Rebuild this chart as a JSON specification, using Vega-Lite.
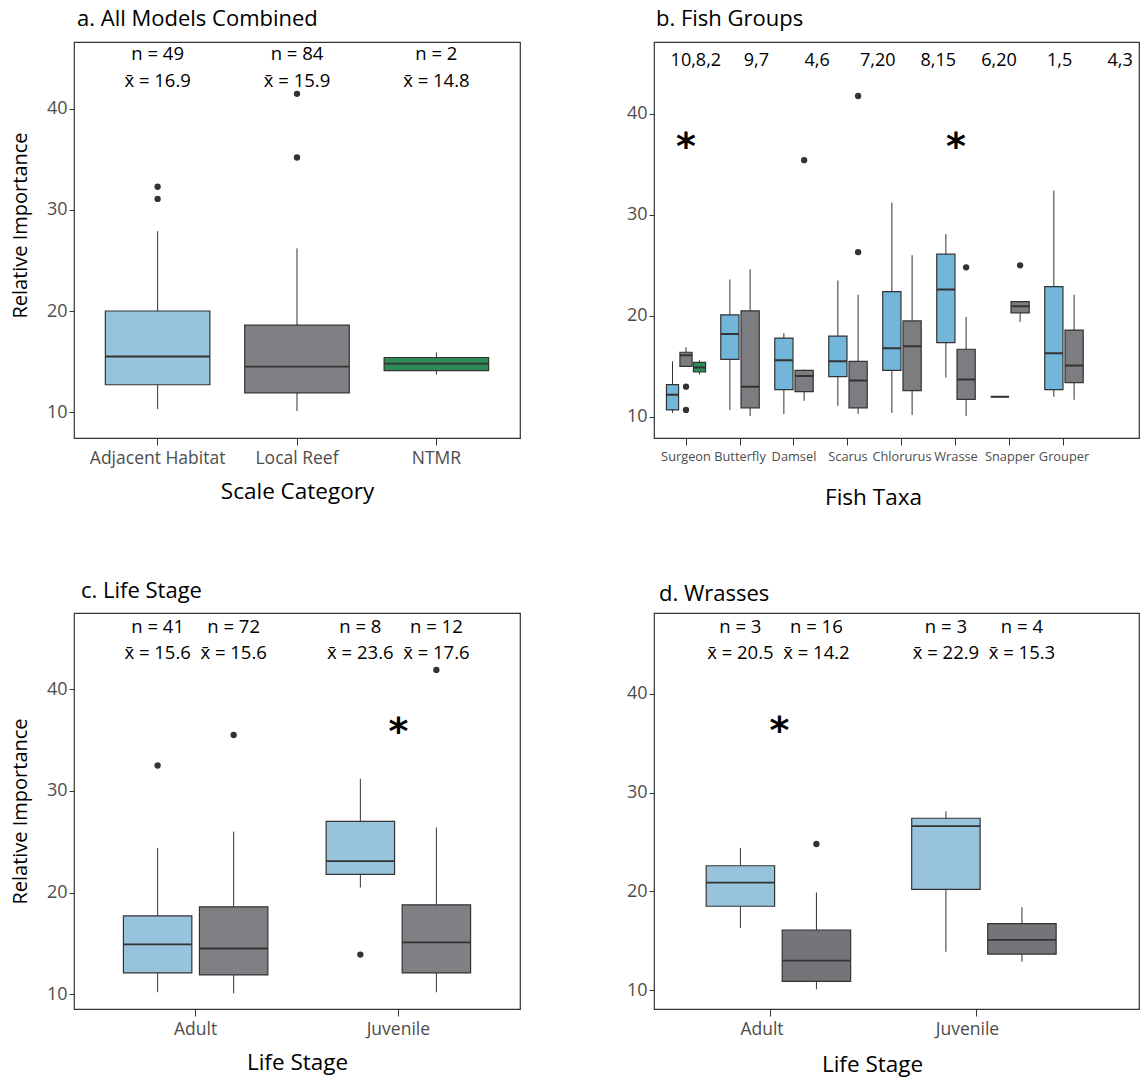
{
  "$schema": "https://vega.github.io/schema/vega-lite/v6.json",
  "background": "white",
  "padding": {"left": 9, "top": 6, "right": 0, "bottom": 14},
  "config": {
    "font": "Open Sans",
    "view": {"stroke": "#333333", "strokeWidth": 1.2},
    "axis": {"grid": false, "domain": false, "tickColor": "#333333", "tickWidth": 1, "labelColor": "#4d4d4d", "labelFont": "Open Sans", "titleFont": "Open Sans", "titleFontWeight": "normal", "titleColor": "#000000"},
    "axisY": {"labelFontSize": 18, "tickSize": 5, "labelPadding": 2, "titleFontSize": 20, "titlePadding": 16},
    "axisX": {"labelFontSize": 17.5, "tickSize": 7, "labelPadding": 4, "labelAngle": 0, "titleFontSize": 22.5, "titlePadding": 14},
    "title": {"anchor": "start", "fontSize": 22, "fontWeight": "normal", "color": "#000000", "frame": "group", "baseline": "alphabetic", "font": "Open Sans"},
    "text": {"font": "Open Sans", "color": "#000000"}
  },
  "datasets": {
    "boxA": [
      {"cat": "Adjacent Habitat", "lo": 10.3, "q1": 12.7, "med": 15.5, "q3": 20.0, "hi": 27.9},
      {"cat": "Local Reef", "lo": 10.1, "q1": 11.9, "med": 14.5, "q3": 18.6, "hi": 26.2},
      {"cat": "NTMR", "lo": 13.7, "q1": 14.1, "med": 14.8, "q3": 15.4, "hi": 15.9}
    ],
    "outA": [
      {"cat": "Adjacent Habitat", "val": 32.3},
      {"cat": "Adjacent Habitat", "val": 31.1},
      {"cat": "Local Reef", "val": 41.5},
      {"cat": "Local Reef", "val": 35.2}
    ],
    "annA": [
      {"cat": "Adjacent Habitat", "nlab": "n = 49", "xlab": "x\u0304 = 16.9"},
      {"cat": "Local Reef", "nlab": "n = 84", "xlab": "x\u0304 = 15.9"},
      {"cat": "NTMR", "nlab": "n = 2", "xlab": "x\u0304 = 14.8"}
    ],
    "boxB": [
      {"cat": "Surgeon", "grp": "Adjacent Habitat", "lo": 10.4, "q1": 10.7, "med": 12.2, "q3": 13.2, "hi": 15.5},
      {"cat": "Surgeon", "grp": "Local Reef", "lo": 15.0, "q1": 15.0, "med": 16.1, "q3": 16.4, "hi": 16.9},
      {"cat": "Surgeon", "grp": "NTMR", "lo": 14.2, "q1": 14.45, "med": 14.9, "q3": 15.4, "hi": 15.6},
      {"cat": "Butterfly", "grp": "Adjacent Habitat", "lo": 10.7, "q1": 15.7, "med": 18.2, "q3": 20.1, "hi": 23.6},
      {"cat": "Butterfly", "grp": "Local Reef", "lo": 10.1, "q1": 10.9, "med": 13.0, "q3": 20.5, "hi": 24.6},
      {"cat": "Damsel", "grp": "Adjacent Habitat", "lo": 10.3, "q1": 12.7, "med": 15.6, "q3": 17.8, "hi": 18.3},
      {"cat": "Damsel", "grp": "Local Reef", "lo": 11.6, "q1": 12.5, "med": 14.05, "q3": 14.6, "hi": 14.7},
      {"cat": "Scarus", "grp": "Adjacent Habitat", "lo": 11.1, "q1": 14.0, "med": 15.5, "q3": 18.0, "hi": 23.5},
      {"cat": "Scarus", "grp": "Local Reef", "lo": 10.3, "q1": 10.9, "med": 13.6, "q3": 15.5, "hi": 22.1},
      {"cat": "Chlorurus", "grp": "Adjacent Habitat", "lo": 10.4, "q1": 14.6, "med": 16.8, "q3": 22.4, "hi": 31.2},
      {"cat": "Chlorurus", "grp": "Local Reef", "lo": 10.2, "q1": 12.6, "med": 17.0, "q3": 19.5, "hi": 26.0},
      {"cat": "Wrasse", "grp": "Adjacent Habitat", "lo": 13.9, "q1": 17.35, "med": 22.6, "q3": 26.1, "hi": 28.1},
      {"cat": "Wrasse", "grp": "Local Reef", "lo": 10.1, "q1": 11.75, "med": 13.7, "q3": 16.7, "hi": 19.9},
      {"cat": "Snapper", "grp": "Adjacent Habitat", "lo": 12.0, "q1": 12.0, "med": 12.0, "q3": 12.0, "hi": 12.0},
      {"cat": "Snapper", "grp": "Local Reef", "lo": 19.4, "q1": 20.3, "med": 20.95, "q3": 21.4, "hi": 21.4},
      {"cat": "Grouper", "grp": "Adjacent Habitat", "lo": 12.0, "q1": 12.7, "med": 16.3, "q3": 22.9, "hi": 32.4},
      {"cat": "Grouper", "grp": "Local Reef", "lo": 11.7, "q1": 13.4, "med": 15.1, "q3": 18.6, "hi": 22.1}
    ],
    "outB": [
      {"cat": "Surgeon", "grp": "Local Reef", "val": 13.0},
      {"cat": "Surgeon", "grp": "Local Reef", "val": 10.7},
      {"cat": "Damsel", "grp": "Local Reef", "val": 35.4},
      {"cat": "Scarus", "grp": "Local Reef", "val": 26.3},
      {"cat": "Scarus", "grp": "Local Reef", "val": 41.75},
      {"cat": "Wrasse", "grp": "Local Reef", "val": 24.8},
      {"cat": "Snapper", "grp": "Local Reef", "val": 25.0}
    ],
    "annB": [
      {"cat": "Surgeon", "lab": "10,8,2"},
      {"cat": "Butterfly", "lab": "9,7"},
      {"cat": "Damsel", "lab": "4,6"},
      {"cat": "Scarus", "lab": "7,20"},
      {"cat": "Chlorurus", "lab": "8,15"},
      {"cat": "Wrasse", "lab": "6,20"},
      {"cat": "Snapper", "lab": "1,5"},
      {"cat": "Grouper", "lab": "4,3"}
    ],
    "starB": [
      {"cat": "Surgeon", "sig": "*"},
      {"cat": "Wrasse", "sig": "*"}
    ],
    "boxC": [
      {"stage": "Adult", "grp": "Adjacent Habitat", "lo": 10.2, "q1": 12.1, "med": 14.9, "q3": 17.7, "hi": 24.4},
      {"stage": "Adult", "grp": "Local Reef", "lo": 10.1, "q1": 11.9, "med": 14.5, "q3": 18.6, "hi": 26.0},
      {"stage": "Juvenile", "grp": "Adjacent Habitat", "lo": 20.5, "q1": 21.8, "med": 23.1, "q3": 27.0, "hi": 31.2},
      {"stage": "Juvenile", "grp": "Local Reef", "lo": 10.2, "q1": 12.1, "med": 15.1, "q3": 18.8, "hi": 26.4}
    ],
    "outC": [
      {"stage": "Adult", "grp": "Adjacent Habitat", "val": 32.5},
      {"stage": "Adult", "grp": "Local Reef", "val": 35.5},
      {"stage": "Juvenile", "grp": "Adjacent Habitat", "val": 13.9},
      {"stage": "Juvenile", "grp": "Local Reef", "val": 41.9}
    ],
    "annC": [
      {"stage": "Adult", "grp": "Adjacent Habitat", "nlab": "n = 41", "xlab": "x\u0304 = 15.6"},
      {"stage": "Adult", "grp": "Local Reef", "nlab": "n = 72", "xlab": "x\u0304 = 15.6"},
      {"stage": "Juvenile", "grp": "Adjacent Habitat", "nlab": "n = 8", "xlab": "x\u0304 = 23.6"},
      {"stage": "Juvenile", "grp": "Local Reef", "nlab": "n = 12", "xlab": "x\u0304 = 17.6"}
    ],
    "starC": [{"stage": "Juvenile", "sig": "*"}],
    "boxD": [
      {"stage": "Adult", "grp": "Adjacent Habitat", "lo": 16.3, "q1": 18.5, "med": 20.9, "q3": 22.6, "hi": 24.4},
      {"stage": "Adult", "grp": "Local Reef", "lo": 10.1, "q1": 10.9, "med": 13.0, "q3": 16.1, "hi": 19.9},
      {"stage": "Juvenile", "grp": "Adjacent Habitat", "lo": 13.9, "q1": 20.2, "med": 26.6, "q3": 27.4, "hi": 28.1},
      {"stage": "Juvenile", "grp": "Local Reef", "lo": 12.9, "q1": 13.65, "med": 15.1, "q3": 16.75, "hi": 18.4}
    ],
    "outD": [
      {"stage": "Adult", "grp": "Local Reef", "val": 24.8}
    ],
    "annD": [
      {"stage": "Adult", "grp": "Adjacent Habitat", "nlab": "n = 3", "xlab": "x\u0304 = 20.5"},
      {"stage": "Adult", "grp": "Local Reef", "nlab": "n = 16", "xlab": "x\u0304 = 14.2"},
      {"stage": "Juvenile", "grp": "Adjacent Habitat", "nlab": "n = 3", "xlab": "x\u0304 = 22.9"},
      {"stage": "Juvenile", "grp": "Local Reef", "nlab": "n = 4", "xlab": "x\u0304 = 15.3"}
    ],
    "starD": [{"stage": "Adult", "sig": "*"}]
  },
  "columns": 2,
  "align": "each",
  "bounds": "flush",
  "spacing": {"row": 175, "column": 134},
  "resolve": {"scale": {"fill": "independent"}},
  "concat": [
    {
      "width": 446, "height": 396,
      "title": {"text": "a. All Models Combined", "dx": 3, "offset": 11.5},
      "encoding": {
        "x": {"field": "cat", "type": "nominal", "scale": {"domain": ["Adjacent Habitat", "Local Reef", "NTMR"], "paddingInner": 0.25, "paddingOuter": 0.225}, "axis": {"title": "Scale Category"}}
      },
      "layer": [
        {"data": {"name": "boxA"}, "mark": {"type": "rule", "color": "#333333", "strokeWidth": 1},
         "encoding": {"y": {"field": "lo", "type": "quantitative", "scale": {"domain": [7.43, 46.63], "nice": false, "zero": false}, "axis": {"title": "Relative Importance", "values": [10, 20, 30, 40], "titleY": 183}}, "y2": {"field": "hi"}}},
        {"data": {"name": "boxA"}, "mark": {"type": "bar", "stroke": "#333333", "strokeWidth": 1.2},
         "encoding": {"y": {"field": "q1", "type": "quantitative"}, "y2": {"field": "q3"},
           "fill": {"field": "cat", "type": "nominal", "scale": {"domain": ["Adjacent Habitat", "Local Reef", "NTMR"], "range": ["#97c4dc", "#7f8083", "#2e8b57"]}, "legend": null}}},
        {"data": {"name": "boxA"}, "mark": {"type": "bar", "fillOpacity": 0, "stroke": "#333333", "strokeWidth": 1.8},
         "encoding": {"y": {"field": "med", "type": "quantitative"}, "y2": {"field": "med"}}},
        {"data": {"name": "outA"}, "mark": {"type": "point", "filled": true, "color": "#333333", "size": 40, "opacity": 1},
         "encoding": {"y": {"field": "val", "type": "quantitative"}}},
        {"data": {"name": "annA"}, "mark": {"type": "text", "fontSize": 18.5, "baseline": "middle"},
         "encoding": {"y": {"datum": 45.4}, "text": {"field": "nlab"}}},
        {"data": {"name": "annA"}, "mark": {"type": "text", "fontSize": 18.5, "baseline": "middle"},
         "encoding": {"y": {"datum": 42.8}, "text": {"field": "xlab"}}}
      ]
    },
    {
      "width": 485, "height": 396,
      "title": {"text": "b. Fish Groups", "dx": 2, "offset": 11.5},
      "resolve": {"scale": {"x": "independent"}},
      "layer": [
        {
          "encoding": {
            "x": {"field": "cat", "type": "nominal", "scale": {"domain": ["Surgeon", "Butterfly", "Damsel", "Scarus", "Chlorurus", "Wrasse", "Snapper", "Grouper"], "paddingInner": 0.25, "paddingOuter": 0.616, "align": 0.1767}, "axis": {"title": "Fish Taxa", "labelFontSize": 12.8, "labelPadding": 5, "titleX": 219, "titlePadding": 24}}
          },
          "resolve": {"scale": {"xOffset": "independent"}},
          "layer": [
            {
              "encoding": {"xOffset": {"field": "grp", "type": "nominal", "scale": {"domain": ["Adjacent Habitat", "Local Reef", "NTMR"], "paddingInner": 0.1, "paddingOuter": 0.05}}},
              "layer": [
                {"data": {"name": "boxB"}, "transform": [{"filter": "datum.cat === 'Surgeon'"}], "mark": {"type": "rule", "color": "#333333", "strokeWidth": 1},
                 "encoding": {"y": {"field": "lo", "type": "quantitative", "scale": {"domain": [7.92, 47.09], "nice": false, "zero": false}, "axis": {"title": null, "values": [10, 20, 30, 40]}}, "y2": {"field": "hi"}}},
                {"data": {"name": "boxB"}, "transform": [{"filter": "datum.cat === 'Surgeon'"}], "mark": {"type": "bar", "stroke": "#333333", "strokeWidth": 1.2},
                 "encoding": {"y": {"field": "q1", "type": "quantitative"}, "y2": {"field": "q3"},
                   "fill": {"field": "grp", "type": "nominal", "scale": {"domain": ["Adjacent Habitat", "Local Reef", "NTMR"], "range": ["#72b6d9", "#7c7d80", "#2e8b57"]}, "legend": null}}},
                {"data": {"name": "boxB"}, "transform": [{"filter": "datum.cat === 'Surgeon'"}], "mark": {"type": "bar", "fillOpacity": 0, "stroke": "#333333", "strokeWidth": 2},
                 "encoding": {"y": {"field": "med", "type": "quantitative"}, "y2": {"field": "med"}}},
                {"data": {"name": "outB"}, "transform": [{"filter": "datum.cat === 'Surgeon'"}], "mark": {"type": "point", "filled": true, "color": "#333333", "size": 40, "opacity": 1},
                 "encoding": {"y": {"field": "val", "type": "quantitative"}}}
              ]
            },
            {
              "encoding": {"xOffset": {"field": "grp", "type": "nominal", "scale": {"domain": ["Adjacent Habitat", "Local Reef"], "paddingInner": 0.1, "paddingOuter": 0.05}}},
              "layer": [
                {"data": {"name": "boxB"}, "transform": [{"filter": "datum.cat !== 'Surgeon'"}], "mark": {"type": "rule", "color": "#333333", "strokeWidth": 1},
                 "encoding": {"y": {"field": "lo", "type": "quantitative"}, "y2": {"field": "hi"}}},
                {"data": {"name": "boxB"}, "transform": [{"filter": "datum.cat !== 'Surgeon'"}], "mark": {"type": "bar", "stroke": "#333333", "strokeWidth": 1.2},
                 "encoding": {"y": {"field": "q1", "type": "quantitative"}, "y2": {"field": "q3"},
                   "fill": {"field": "grp", "type": "nominal"}}},
                {"data": {"name": "boxB"}, "transform": [{"filter": "datum.cat !== 'Surgeon'"}], "mark": {"type": "bar", "fillOpacity": 0, "stroke": "#333333", "strokeWidth": 2},
                 "encoding": {"y": {"field": "med", "type": "quantitative"}, "y2": {"field": "med"}}},
                {"data": {"name": "outB"}, "transform": [{"filter": "datum.cat !== 'Surgeon'"}], "mark": {"type": "point", "filled": true, "color": "#333333", "size": 40, "opacity": 1},
                 "encoding": {"y": {"field": "val", "type": "quantitative"}}}
              ]
            },
            {"data": {"name": "starB"}, "mark": {"type": "text", "fontSize": 38, "fontWeight": "bold", "baseline": "middle", "dy": 5, "font": "DejaVu Sans"},
             "encoding": {"y": {"datum": 37.1}, "text": {"field": "sig"}}}
          ]
        },
        {"data": {"name": "annB"}, "mark": {"type": "text", "fontSize": 18, "baseline": "middle"},
         "encoding": {
           "x": {"field": "cat", "type": "nominal", "scale": {"domain": ["Surgeon", "Butterfly", "Damsel", "Scarus", "Chlorurus", "Wrasse", "Snapper", "Grouper"], "paddingInner": 0.5, "paddingOuter": 0.301, "align": 0.69}, "axis": null},
           "y": {"datum": 45.2}, "text": {"field": "lab"}}}
      ]
    },
    {
      "width": 446, "height": 396,
      "title": {"text": "c. Life Stage", "dx": 7, "offset": 10.5},
      "encoding": {
        "x": {"field": "stage", "type": "nominal", "scale": {"domain": ["Adult", "Juvenile"], "paddingInner": 0.25, "paddingOuter": 0.225}, "axis": {"title": "Life Stage"}}
      },
      "layer": [
        {"data": {"name": "boxC"}, "mark": {"type": "rule", "color": "#333333", "strokeWidth": 1},
         "encoding": {"xOffset": {"field": "grp", "type": "nominal", "scale": {"domain": ["Adjacent Habitat", "Local Reef"], "paddingInner": 0.1, "paddingOuter": 0.05}},
           "y": {"field": "lo", "type": "quantitative", "scale": {"domain": [8.55, 47.5], "nice": false, "zero": false}, "axis": {"title": "Relative Importance", "values": [10, 20, 30, 40]}}, "y2": {"field": "hi"}}},
        {"data": {"name": "boxC"}, "mark": {"type": "bar", "stroke": "#333333", "strokeWidth": 1.2},
         "encoding": {"xOffset": {"field": "grp", "type": "nominal"}, "y": {"field": "q1", "type": "quantitative"}, "y2": {"field": "q3"},
           "fill": {"field": "grp", "type": "nominal", "scale": {"domain": ["Adjacent Habitat", "Local Reef"], "range": ["#97c4dc", "#7f8083"]}, "legend": null}}},
        {"data": {"name": "boxC"}, "mark": {"type": "bar", "fillOpacity": 0, "stroke": "#333333", "strokeWidth": 1.8},
         "encoding": {"xOffset": {"field": "grp", "type": "nominal"}, "y": {"field": "med", "type": "quantitative"}, "y2": {"field": "med"}}},
        {"data": {"name": "outC"}, "mark": {"type": "point", "filled": true, "color": "#333333", "size": 40, "opacity": 1},
         "encoding": {"xOffset": {"field": "grp", "type": "nominal"}, "y": {"field": "val", "type": "quantitative"}}},
        {"data": {"name": "annC"}, "mark": {"type": "text", "fontSize": 18.5, "baseline": "middle"},
         "encoding": {"xOffset": {"field": "grp", "type": "nominal"}, "y": {"datum": 46.1}, "text": {"field": "nlab"}}},
        {"data": {"name": "annC"}, "mark": {"type": "text", "fontSize": 18.5, "baseline": "middle"},
         "encoding": {"xOffset": {"field": "grp", "type": "nominal"}, "y": {"datum": 43.6}, "text": {"field": "xlab"}}},
        {"data": {"name": "starC"}, "mark": {"type": "text", "fontSize": 38, "fontWeight": "bold", "baseline": "middle", "dy": 5, "font": "DejaVu Sans"},
         "encoding": {"y": {"datum": 36.2}, "text": {"field": "sig"}}}
      ]
    },
    {
      "width": 485, "height": 396,
      "title": {"text": "d. Wrasses", "dx": 5, "offset": 7},
      "encoding": {
        "x": {"field": "stage", "type": "nominal", "scale": {"domain": ["Adult", "Juvenile"], "paddingInner": 0.25, "paddingOuter": 0.305, "align": 0.386}, "axis": {"title": "Life Stage", "titleX": 218, "titlePadding": 16, "tickOffset": -9, "labelOffset": -9}}
      },
      "layer": [
        {"data": {"name": "boxD"}, "mark": {"type": "rule", "color": "#333333", "strokeWidth": 1},
         "encoding": {"xOffset": {"field": "grp", "type": "nominal", "scale": {"domain": ["Adjacent Habitat", "Local Reef"], "paddingInner": 0.1, "paddingOuter": 0.05}},
           "y": {"field": "lo", "type": "quantitative", "scale": {"domain": [8.11, 48.16], "nice": false, "zero": false}, "axis": {"title": null, "values": [10, 20, 30, 40]}}, "y2": {"field": "hi"}}},
        {"data": {"name": "boxD"}, "mark": {"type": "bar", "stroke": "#333333", "strokeWidth": 1.2},
         "encoding": {"xOffset": {"field": "grp", "type": "nominal"}, "y": {"field": "q1", "type": "quantitative"}, "y2": {"field": "q3"},
           "fill": {"field": "grp", "type": "nominal", "scale": {"domain": ["Adjacent Habitat", "Local Reef"], "range": ["#97c4dc", "#747578"]}, "legend": null}}},
        {"data": {"name": "boxD"}, "mark": {"type": "bar", "fillOpacity": 0, "stroke": "#333333", "strokeWidth": 1.8},
         "encoding": {"xOffset": {"field": "grp", "type": "nominal"}, "y": {"field": "med", "type": "quantitative"}, "y2": {"field": "med"}}},
        {"data": {"name": "outD"}, "mark": {"type": "point", "filled": true, "color": "#333333", "size": 40, "opacity": 1},
         "encoding": {"xOffset": {"field": "grp", "type": "nominal"}, "y": {"field": "val", "type": "quantitative"}}},
        {"data": {"name": "annD"}, "mark": {"type": "text", "fontSize": 18.5, "baseline": "middle"},
         "encoding": {"xOffset": {"field": "grp", "type": "nominal"}, "y": {"datum": 46.7}, "text": {"field": "nlab"}}},
        {"data": {"name": "annD"}, "mark": {"type": "text", "fontSize": 18.5, "baseline": "middle"},
         "encoding": {"xOffset": {"field": "grp", "type": "nominal"}, "y": {"datum": 44.1}, "text": {"field": "xlab"}}},
        {"data": {"name": "starD"}, "mark": {"type": "text", "fontSize": 38, "fontWeight": "bold", "baseline": "middle", "dy": 5, "font": "DejaVu Sans"},
         "encoding": {"y": {"datum": 36.6}, "text": {"field": "sig"}}}
      ]
    }
  ]
}
